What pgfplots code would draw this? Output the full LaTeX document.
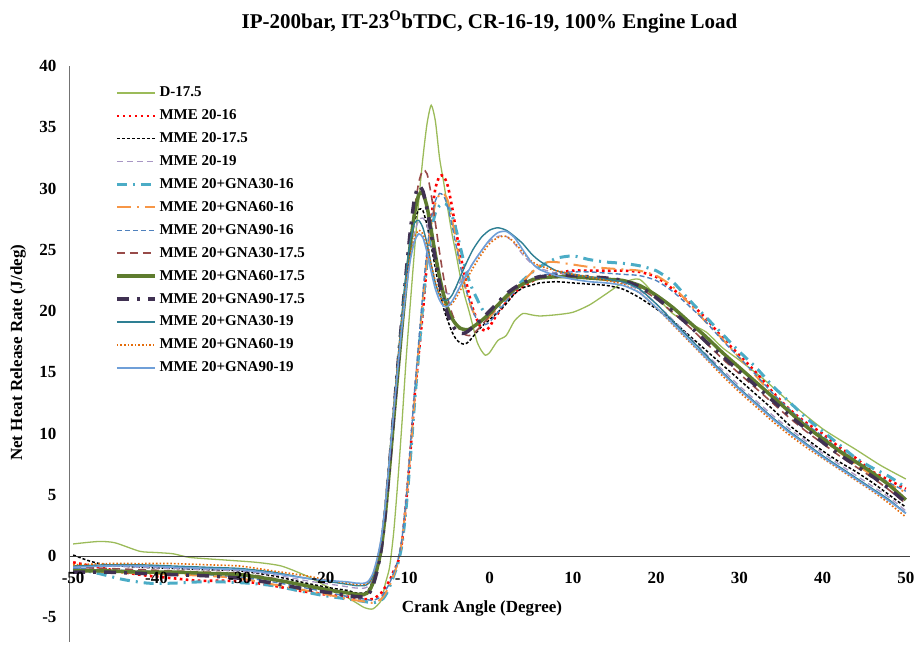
\documentclass[border=0pt]{standalone}
\usepackage{fontspec}
\setmainfont{Liberation Serif}
\usepackage{pgfplots}
\pgfplotsset{compat=1.18}
\definecolor{cD}{HTML}{9BBB59}
\definecolor{cR}{HTML}{FF0000}
\definecolor{cK}{HTML}{000000}
\definecolor{cLP}{HTML}{A896C4}
\definecolor{cCy}{HTML}{4BACC6}
\definecolor{cOr}{HTML}{F79646}
\definecolor{cSB}{HTML}{4F81BD}
\definecolor{cBr}{HTML}{984B49}
\definecolor{cOl}{HTML}{5E7C2E}
\definecolor{cDP}{HTML}{403152}
\definecolor{cTe}{HTML}{2E7F93}
\definecolor{cDO}{HTML}{E46C0A}
\definecolor{cLB}{HTML}{6F9FD8}
\begin{document}
\begin{tikzpicture}
\begin{axis}[name=ax, scale only axis, width=841pt, height=576pt,
  xmin=-50.5, xmax=50.5, ymin=-7, ymax=40,
  axis on top,
  axis x line=middle, axis y line=left,
  x axis line style={-, draw=black!75, line width=0.9pt},
  y axis line style={-, draw=black!55, line width=0.9pt},
  hide obscured x ticks=false, hide obscured y ticks=false,
  xtick={-50,-40,...,50}, ytick={-5,0,...,40},
  major tick length=0pt, tick style={draw=none},
  /pgf/number format/assume math mode=true,
  ticklabel style={font=\fontsize{17}{20}\selectfont\bfseries},
  xticklabel style={yshift=-12pt},
  yticklabel style={xshift=-9pt},
  legend cell align=left,
  legend style={at={(0.051,0.971)}, anchor=north west, draw=none, fill=none,
    font=\fontsize{15}{18}\selectfont\bfseries,
    nodes={inner sep=1pt, text height=11pt, text depth=3pt},
    row sep=6.9pt, column sep=2pt},
  legend image code/.code={\draw[#1] (0pt,0pt) -- (38pt,0pt);},
  clip=false,
]
% D-17.5
\addplot[cD, line width=1.3pt, smooth, tension=0.4] coordinates {
(-50,1.0)(-47,1.2)(-45,1.1)(-42,0.4)(-40,0.3)(-38,0.2)(-36,-0.1)(-32,-0.3)(-28,-0.5)(-25,-0.8)(-22,-1.6)(-20,-2.3)(-18,-3.0)(-16,-3.8)(-15,-4.2)(-14,-4.3)(-13,-3.6)(-12.5,-2.2)(-12,-0.9)(-11.5,2)(-11,6.2)(-10.5,11)(-10,16.2)(-9.5,20.7)(-9,25)(-8.5,29)(-8,32.5)(-7.5,35.3)(-7,36.8)(-6.5,35.5)(-6,32.5)(-5.5,30.5)(-5,28.3)(-4.5,26.3)(-4,24.6)(-3.5,22.8)(-3,21.3)(-2.5,20.1)(-2,18.8)(-1.5,17.5)(-1,16.8)(-0.5,16.4)(0,16.6)(1,17.6)(2,18.0)(3,19.2)(4,19.8)(5,19.7)(6,19.6)(8,19.7)(10,19.9)(12,20.5)(14,21.4)(16,22.3)(18,22.6)(20,21.2)(22,19.8)(24,19.0)(26,18.3)(28,17.0)(30,16.0)(33,14.4)(36,12.6)(40,10.4)(44,8.7)(47,7.4)(50,6.3)};
\addlegendentry{D-17.5}
% MME 20-16
\addplot[cR, line width=2.6pt, dash pattern=on 2.6pt off 3.4pt, smooth, tension=0.4] coordinates {
(-50,-0.5)(-47,-0.9)(-44,-1.3)(-41,-1.6)(-38,-1.8)(-35,-2.0)(-32,-2.0)(-29,-2.1)(-26,-2.4)(-23,-2.8)(-20,-3.1)(-17,-3.3)(-15,-3.5)(-14,-3.5)(-13,-3.0)(-12.5,-2.5)(-12,-2.0)(-11.5,-1.2)(-11,-0.5)(-10.5,1.2)(-10,4.5)(-9.5,8.5)(-9,13)(-8.5,16.5)(-8,20)(-7.5,24)(-7,27.5)(-6.5,30)(-6,31)(-5.5,31)(-5,30.2)(-4.5,28.5)(-4,26.5)(-3.5,24.6)(-3,23)(-2.5,21.5)(-2,20.2)(-1.5,19.3)(-1,18.6)(-0.5,18.4)(0,18.7)(0.5,19.3)(1,19.8)(2,20.7)(3,21.5)(4,22)(5,22.4)(6,22.7)(8,23.1)(10,23.3)(12,23.3)(14,23.3)(16,23.3)(18,23.2)(20,22.8)(22,21.8)(24,20.7)(26,19.4)(28,17.8)(30,16.4)(32,15.0)(34,13.4)(36,12.0)(38,10.9)(40,10.0)(42,8.9)(44,8.0)(46,6.9)(48,6.2)(50,5.5)};
\addlegendentry{MME 20-16}
% MME 20-17.5
\addplot[cK, line width=1.5pt, dash pattern=on 3pt off 2pt, smooth, tension=0.4] coordinates {
(-50,0.1)(-48,-0.4)(-46,-0.7)(-42,-0.9)(-38,-1.0)(-34,-1.1)(-30,-1.2)(-26,-1.6)(-22,-2.2)(-19,-2.6)(-17,-2.8)(-16,-3.0)(-15,-3.0)(-14.5,-2.7)(-14,-2.0)(-13.5,-0.8)(-13,0.8)(-12.5,3.8)(-12,7.5)(-11.5,11.5)(-11,15.2)(-10.5,18.8)(-10,22.3)(-9.5,25.3)(-9,27.3)(-8.5,28.3)(-8,28.2)(-7.5,27)(-7,25.3)(-6.5,23.5)(-6,21.7)(-5.5,20.2)(-5,19.2)(-4.5,18.3)(-4,17.7)(-3.5,17.4)(-3,17.3)(-2.5,17.5)(-2,17.9)(-1,18.7)(0,19.3)(1,19.9)(2,20.6)(3,21.4)(4,21.9)(5,22.1)(6,22.3)(8,22.4)(10,22.3)(12,22.2)(14,22.1)(16,21.8)(18,21.1)(20,20.2)(22,19.2)(24,18.0)(26,16.8)(28,15.6)(30,14.4)(32,13.2)(34,12.0)(36,10.7)(38,9.6)(40,8.6)(42,7.7)(44,6.9)(46,6.0)(48,5.0)(50,4.0)};
\addlegendentry{MME 20-17.5}
% MME 20-19
\addplot[cLP, line width=1.3pt, dash pattern=on 6pt off 4pt, smooth, tension=0.4] coordinates {
(-50,-0.8)(-46,-0.8)(-42,-0.9)(-38,-1.0)(-34,-1.1)(-30,-1.2)(-26,-1.5)(-22,-2.0)(-19,-2.3)(-17,-2.5)(-16,-2.6)(-15,-2.6)(-14.5,-2.4)(-14,-1.8)(-13.5,-0.6)(-13,1.0)(-12.5,3.8)(-12,7.5)(-11.5,11.5)(-11,15.2)(-10.5,18.8)(-10,22.0)(-9.5,24.6)(-9,26.4)(-8.5,27.4)(-8,27.6)(-7.5,27)(-7,25.6)(-6.5,23.9)(-6,22.5)(-5.5,21.7)(-5,21.4)(-4.5,21.5)(-4,21.9)(-3,22.9)(-2,23.9)(-1,24.9)(0,25.7)(1,26.1)(2,26.1)(3,25.5)(4,24.6)(5,23.9)(6,23.5)(8,23.1)(10,22.9)(12,22.7)(14,22.5)(16,22.3)(18,21.7)(20,20.6)(22,19.3)(24,17.9)(26,16.5)(28,15.2)(30,13.9)(32,12.7)(34,11.5)(36,10.4)(38,9.4)(40,8.4)(42,7.5)(44,6.6)(46,5.7)(48,4.8)(50,3.7)};
\addlegendentry{MME 20-19}
% MME 20+GNA30-16
\addplot[cCy, line width=3pt, dash pattern=on 10pt off 6pt on 2pt off 6pt, smooth, tension=0.4] coordinates {
(-50,-1.0)(-47,-1.4)(-44,-1.9)(-41,-2.2)(-38,-2.2)(-35,-2.1)(-32,-2.1)(-29,-2.2)(-26,-2.4)(-23,-2.8)(-20,-3.2)(-17,-3.5)(-15,-3.7)(-14,-3.8)(-13,-3.6)(-12.5,-3.2)(-12,-2.5)(-11.5,-1.6)(-11,-0.6)(-10.5,1)(-10,4)(-9.5,8)(-9,12.5)(-8.5,16.5)(-8,20.5)(-7.5,24)(-7,26.5)(-6.5,28)(-6,28.6)(-5.5,28.8)(-5,28.6)(-4.5,27.8)(-4,26.6)(-3.5,25.2)(-3,23.8)(-2.5,22.6)(-2,21.7)(-1.5,21)(-1,20.3)(-0.5,19.8)(0,19.6)(1,20.2)(2,21.0)(3,21.8)(4,22.5)(5,23.1)(6,23.6)(8,24.3)(10,24.5)(12,24.2)(14,24.0)(16,23.9)(18,23.7)(20,23.3)(22,22.4)(24,20.9)(26,19.5)(28,18.1)(30,16.7)(32,15.4)(34,13.9)(36,12.6)(38,11.3)(40,10.2)(42,9.1)(44,8.0)(46,7.2)(48,6.5)(50,5.6)};
\addlegendentry{MME 20+GNA30-16}
% MME 20+GNA60-16
\addplot[cOr, line width=2pt, dash pattern=on 14pt off 6pt on 2pt off 6pt, smooth, tension=0.4] coordinates {
(-50,-1.2)(-46,-1.3)(-42,-1.4)(-38,-1.5)(-34,-1.6)(-30,-1.8)(-26,-2.3)(-22,-2.8)(-19,-3.2)(-17,-3.5)(-15,-3.7)(-14,-3.8)(-13,-3.5)(-12.5,-3.0)(-12,-2.4)(-11.5,-1.5)(-11,-0.5)(-10.5,1.3)(-10,4.5)(-9.5,8.5)(-9,12.8)(-8.5,17)(-8,21)(-7.5,24.5)(-7,27)(-6.5,28.8)(-6,29.5)(-5.5,29.6)(-5,29)(-4.5,27.5)(-4,25.6)(-3.5,23.8)(-3,22.2)(-2.5,20.9)(-2,20)(-1.5,19.4)(-1,19.1)(-0.5,19.2)(0,19.5)(1,20.3)(2,21.0)(3,21.7)(4,22.4)(5,23.1)(6,23.7)(7,24.0)(8,24.0)(10,23.8)(12,23.6)(14,23.5)(16,23.4)(18,23.3)(20,22.9)(22,22.0)(24,20.6)(26,19.1)(28,17.7)(30,16.2)(32,14.7)(34,13.2)(36,11.9)(38,10.6)(40,9.5)(42,8.5)(44,7.5)(46,6.6)(48,5.9)(50,5.2)};
\addlegendentry{MME 20+GNA60-16}
% MME 20+GNA90-16
\addplot[cSB, line width=1.4pt, dash pattern=on 5pt off 3pt, smooth, tension=0.4] coordinates {
(-50,-1.0)(-46,-1.1)(-42,-1.2)(-38,-1.3)(-34,-1.5)(-30,-1.7)(-26,-2.1)(-22,-2.6)(-19,-3.0)(-17,-3.3)(-15,-3.5)(-14,-3.6)(-13,-3.3)(-12.5,-2.8)(-12,-2.2)(-11.5,-1.3)(-11,-0.3)(-10.5,1.5)(-10,4.8)(-9.5,9)(-9,13.5)(-8.5,17.5)(-8,21.5)(-7.5,25)(-7,27.5)(-6.5,29)(-6,29.6)(-5.5,29.4)(-5,28.5)(-4.5,27)(-4,25.3)(-3.5,23.7)(-3,22.2)(-2.5,21)(-2,20)(-1.5,19.3)(-1,19)(-0.5,18.9)(0,19.1)(1,19.9)(2,20.8)(3,21.6)(4,22.2)(5,22.6)(6,22.9)(8,23.1)(10,23.2)(12,23.2)(14,23.1)(16,23.0)(18,22.9)(20,22.5)(22,21.6)(24,20.4)(26,19.1)(28,17.6)(30,16.2)(32,14.8)(34,13.3)(36,12.0)(38,10.8)(40,9.8)(42,8.7)(44,7.8)(46,6.8)(48,6.0)(50,5.3)};
\addlegendentry{MME 20+GNA90-16}
% MME 20+GNA30-17.5
\addplot[cBr, line width=1.6pt, dash pattern=on 8pt off 5pt, smooth, tension=0.4] coordinates {
(-50,-0.9)(-46,-1.0)(-42,-1.1)(-38,-1.2)(-34,-1.3)(-30,-1.4)(-26,-1.8)(-22,-2.4)(-19,-2.8)(-17,-3.0)(-16,-3.2)(-15,-3.2)(-14.5,-3.0)(-14,-2.3)(-13.5,-1.0)(-13,0.5)(-12.5,3.3)(-12,7)(-11.5,11)(-11,14.8)(-10.5,18.5)(-10,22)(-9.5,25.5)(-9,28.3)(-8.5,30.5)(-8,31.5)(-7.5,31.2)(-7,29.5)(-6.5,27.2)(-6,24.8)(-5.5,22.7)(-5,21)(-4.5,19.8)(-4,19)(-3.5,18.4)(-3,18.1)(-2.5,18.0)(-2,18.1)(-1,18.8)(0,19.6)(1,20.4)(2,21.1)(3,21.7)(4,22.2)(5,22.5)(6,22.7)(8,22.8)(10,22.8)(12,22.7)(14,22.6)(16,22.4)(18,21.9)(20,21.0)(22,19.9)(24,18.7)(26,17.4)(28,16.1)(30,14.9)(32,13.7)(34,12.5)(36,11.3)(38,10.2)(40,9.2)(42,8.2)(44,7.3)(46,6.4)(48,5.4)(50,4.3)};
\addlegendentry{MME 20+GNA30-17.5}
% MME 20+GNA60-17.5
\addplot[cOl, line width=3.5pt, smooth, tension=0.4] coordinates {
(-50,-1.2)(-46,-1.2)(-42,-1.3)(-38,-1.3)(-34,-1.4)(-30,-1.5)(-26,-1.9)(-22,-2.4)(-19,-2.8)(-17,-3.0)(-16,-3.1)(-15,-3.1)(-14.5,-2.9)(-14,-2.2)(-13.5,-1.0)(-13,0.6)(-12.5,3.5)(-12,7.2)(-11.5,11.2)(-11,15)(-10.5,18.8)(-10,22.3)(-9.5,25.5)(-9,28)(-8.5,29.5)(-8,29.6)(-7.5,28.5)(-7,26.6)(-6.5,24.6)(-6,22.8)(-5.5,21.3)(-5,20.2)(-4.5,19.4)(-4,18.9)(-3.5,18.6)(-3,18.5)(-2.5,18.5)(-2,18.7)(-1,19.2)(0,19.8)(1,20.5)(2,21.2)(3,21.8)(4,22.2)(5,22.5)(6,22.7)(8,22.8)(10,22.8)(12,22.7)(14,22.6)(16,22.5)(18,22.1)(20,21.3)(22,20.3)(24,19.1)(26,17.9)(28,16.6)(30,15.4)(32,14.2)(34,13.0)(36,11.8)(38,10.6)(40,9.6)(42,8.6)(44,7.7)(46,6.8)(48,5.8)(50,4.6)};
\addlegendentry{MME 20+GNA60-17.5}
% MME 20+GNA90-17.5
\addplot[cDP, line width=3.5pt, dash pattern=on 12pt off 8pt on 3pt off 8pt, smooth, tension=0.4] coordinates {
(-50,-1.3)(-46,-1.3)(-42,-1.4)(-38,-1.5)(-34,-1.6)(-30,-1.8)(-26,-2.2)(-22,-2.7)(-19,-3.0)(-17,-3.2)(-16,-3.3)(-15,-3.3)(-14.5,-3.1)(-14,-2.4)(-13.5,-1.2)(-13,0.6)(-12.5,3.6)(-12,7.5)(-11.5,11.6)(-11,15.6)(-10.5,19.5)(-10,23.2)(-9.5,26.6)(-9,29.2)(-8.5,30.2)(-8,29.8)(-7.5,28.3)(-7,26.3)(-6.5,24.2)(-6,22.3)(-5.5,20.8)(-5,19.7)(-4.5,18.9)(-4,18.4)(-3.5,18.2)(-3,18.2)(-2.5,18.4)(-2,18.7)(-1,19.3)(0,20.0)(1,20.7)(2,21.4)(3,21.9)(4,22.3)(5,22.6)(6,22.8)(8,22.9)(10,22.9)(12,22.8)(14,22.7)(16,22.5)(18,22.0)(20,21.1)(22,20.0)(24,18.8)(26,17.5)(28,16.3)(30,15.1)(32,13.9)(34,12.7)(36,11.5)(38,10.4)(40,9.3)(42,8.3)(44,7.4)(46,6.5)(48,5.5)(50,4.4)};
\addlegendentry{MME 20+GNA90-17.5}
% MME 20+GNA30-19
\addplot[cTe, line width=1.4pt, smooth, tension=0.4] coordinates {
(-50,-0.8)(-46,-0.7)(-42,-0.7)(-38,-0.8)(-34,-0.9)(-30,-1.0)(-26,-1.3)(-22,-1.8)(-19,-2.1)(-17,-2.3)(-16,-2.4)(-15,-2.4)(-14.5,-2.2)(-14,-1.6)(-13.5,-0.4)(-13,1.3)(-12.5,4.2)(-12,8)(-11.5,12)(-11,16)(-10.5,19.8)(-10,23.2)(-9.5,25.8)(-9,27.2)(-8.5,27.4)(-8,26.8)(-7.5,25.5)(-7,23.8)(-6.5,22.3)(-6,21.3)(-5.5,20.9)(-5,20.9)(-4.5,21.3)(-4,22)(-3,23.6)(-2,25)(-1,26)(0,26.6)(1,26.8)(2,26.6)(3,26.1)(4,25.5)(5,24.7)(6,24.1)(8,23.3)(10,23.0)(12,22.8)(14,22.6)(16,22.4)(18,21.8)(20,20.6)(22,19.2)(24,17.8)(26,16.4)(28,15.0)(30,13.7)(32,12.5)(34,11.3)(36,10.2)(38,9.2)(40,8.2)(42,7.3)(44,6.4)(46,5.5)(48,4.6)(50,3.5)};
\addlegendentry{MME 20+GNA30-19}
% MME 20+GNA60-19
\addplot[cDO, line width=1.6pt, dash pattern=on 1.6pt off 2pt, smooth, tension=0.4] coordinates {
(-50,-0.7)(-46,-0.6)(-42,-0.6)(-38,-0.6)(-34,-0.7)(-30,-0.8)(-26,-1.2)(-22,-1.6)(-19,-2.0)(-17,-2.2)(-16,-2.3)(-15,-2.3)(-14.5,-2.1)(-14,-1.5)(-13.5,-0.3)(-13,1.4)(-12.5,4.3)(-12,8)(-11.5,12)(-11,15.8)(-10.5,19.3)(-10,22.3)(-9.5,24.6)(-9,26.0)(-8.5,26.6)(-8,26.3)(-7.5,25.2)(-7,23.8)(-6.5,22.4)(-6,21.3)(-5.5,20.6)(-5,20.4)(-4.5,20.6)(-4,21.1)(-3,22.3)(-2,23.5)(-1,24.6)(0,25.5)(1,26.0)(2,26.1)(3,25.6)(4,24.8)(5,24.1)(6,23.7)(8,23.3)(10,23.0)(12,22.8)(14,22.5)(16,22.2)(18,21.5)(20,20.3)(22,18.9)(24,17.5)(26,16.1)(28,14.7)(30,13.4)(32,12.2)(34,11.0)(36,9.9)(38,8.9)(40,8.0)(42,7.1)(44,6.2)(46,5.3)(48,4.3)(50,3.2)};
\addlegendentry{MME 20+GNA60-19}
% MME 20+GNA90-19
\addplot[cLB, line width=1.6pt, smooth, tension=0.4] coordinates {
(-50,-0.9)(-46,-0.8)(-42,-0.8)(-38,-0.9)(-34,-1.0)(-30,-1.1)(-26,-1.4)(-22,-1.8)(-19,-2.0)(-17,-2.1)(-16,-2.2)(-15,-2.2)(-14.5,-2.0)(-14,-1.4)(-13.5,-0.2)(-13,1.5)(-12.5,4.3)(-12,8)(-11.5,11.8)(-11,15.4)(-10.5,18.8)(-10,21.8)(-9.5,24.2)(-9,25.7)(-8.5,26.3)(-8,26)(-7.5,24.8)(-7,23.2)(-6.5,21.8)(-6,20.9)(-5.5,20.4)(-5,20.4)(-4.5,20.8)(-4,21.4)(-3,22.7)(-2,23.9)(-1,24.9)(0,25.8)(1,26.4)(2,26.5)(3,26.0)(4,25.0)(5,24.0)(6,23.4)(8,22.9)(10,22.6)(12,22.4)(14,22.3)(16,22.1)(18,21.5)(20,20.3)(22,19.0)(24,17.6)(26,16.2)(28,14.9)(30,13.6)(32,12.4)(34,11.2)(36,10.1)(38,9.1)(40,8.1)(42,7.2)(44,6.3)(46,5.4)(48,4.5)(50,3.5)};
\addlegendentry{MME 20+GNA90-19}
\node[font=\fontsize{17}{20}\selectfont\bfseries] at (axis cs:-0.9,-4.25) {Crank Angle (Degree)};
\node[font=\fontsize{17}{20}\selectfont\bfseries, rotate=90] at ([xshift=-51pt]axis cs:-50.5,16.6) {Net Heat Release Rate (J/deg)};
\node[font=\fontsize{21}{24}\selectfont\bfseries] at ([yshift=44pt]rel axis cs:0.5,1) {IP-200bar, IT-23\textsuperscript{O}bTDC, CR-16-19, 100\% Engine Load};
\end{axis}
\pgfresetboundingbox
\path[use as bounding box] ([xshift=-69pt,yshift=-7pt]ax.south west) rectangle ([xshift=7pt,yshift=66pt]ax.north east);
\end{tikzpicture}
\end{document}
